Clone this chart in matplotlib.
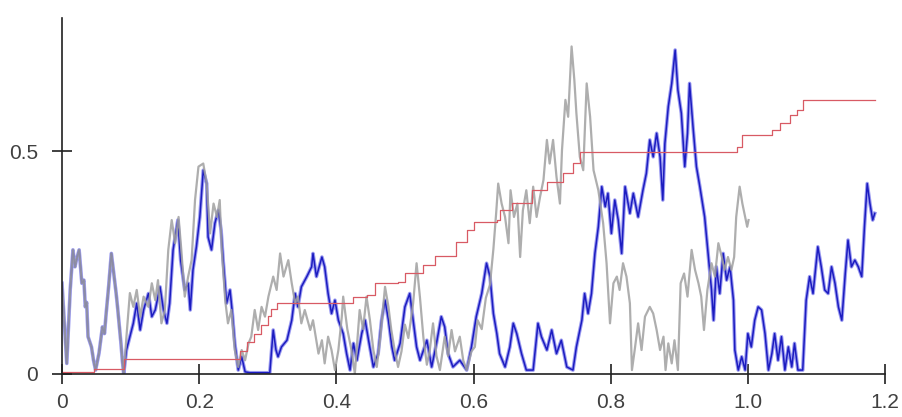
import numpy as np
import matplotlib.pyplot as plt

plt.rcParams['font.family'] = ['Liberation Sans', 'DejaVu Sans']

# doan dau: hai duong trung nhau
chung_t = [0.000, 0.004, 0.007, 0.012, 0.016, 0.019, 0.021, 0.025, 0.029, 0.032, 0.034, 0.036, 0.038, 0.043,
           0.046, 0.049, 0.054, 0.059, 0.062, 0.064, 0.068, 0.072, 0.076, 0.079, 0.081, 0.084, 0.086, 0.088, 0.090]
chung_v = [0.203, 0.100, 0.023, 0.188, 0.278, 0.240, 0.255, 0.278, 0.203, 0.210, 0.150, 0.160, 0.083, 0.060,
           0.030, 0.008, 0.046, 0.105, 0.090, 0.128, 0.195, 0.270, 0.218, 0.180, 0.150, 0.100, 0.068, 0.030, 0.000]

# duong xam
xam_t = [0.094, 0.099, 0.104, 0.109, 0.114, 0.119, 0.126, 0.131, 0.136, 0.140, 0.145, 0.150, 0.155, 0.160,
         0.165, 0.170, 0.174, 0.179, 0.184, 0.189, 0.194, 0.199, 0.206, 0.211, 0.216, 0.221, 0.226, 0.230,
         0.233, 0.238, 0.242, 0.247, 0.252, 0.257, 0.262, 0.267, 0.272, 0.276, 0.281, 0.286, 0.291, 0.296,
         0.301, 0.308, 0.313, 0.318, 0.323, 0.330, 0.335, 0.340, 0.344, 0.349, 0.354, 0.362, 0.366, 0.374,
         0.379, 0.383, 0.388, 0.393, 0.398, 0.403, 0.408,
         0.410, 0.416, 0.422, 0.427, 0.434, 0.439, 0.444, 0.449, 0.454, 0.459, 0.464, 0.471, 0.476, 0.480,
         0.485, 0.490, 0.495, 0.500, 0.505, 0.512, 0.517, 0.522, 0.527, 0.532, 0.536, 0.541, 0.546, 0.551,
         0.558, 0.563, 0.568, 0.573, 0.580, 0.585, 0.590, 0.597, 0.602, 0.606, 0.612, 0.618, 0.624, 0.629,
         0.633,
         0.636, 0.641, 0.646, 0.651, 0.654, 0.659, 0.664, 0.668, 0.672, 0.677, 0.682, 0.687, 0.692, 0.697,
         0.702, 0.707, 0.711, 0.716, 0.721, 0.726, 0.729, 0.734, 0.738, 0.743, 0.747, 0.750, 0.755, 0.760,
         0.765, 0.770, 0.775, 0.782, 0.789, 0.794, 0.799, 0.804, 0.809, 0.813, 0.818, 0.823, 0.828, 0.831,
         0.835, 0.840, 0.845, 0.850, 0.857, 0.862, 0.867, 0.872, 0.877, 0.880, 0.884, 0.889, 0.893, 0.898,
         0.902, 0.907, 0.912, 0.918, 0.923, 0.928, 0.932, 0.936, 0.941, 0.947, 0.952, 0.957, 0.962, 0.966,
         0.971, 0.976, 0.980, 0.983, 0.988, 0.992, 0.996, 0.999, 1.001]
xam_v = [0.083, 0.181, 0.150, 0.188, 0.128, 0.173, 0.150, 0.203, 0.165, 0.210, 0.113, 0.143, 0.278, 0.345,
         0.293, 0.352, 0.278, 0.173, 0.218, 0.255, 0.390, 0.465, 0.472, 0.427, 0.315, 0.382, 0.352, 0.390,
         0.278, 0.165, 0.113, 0.143, 0.053, 0.015, 0.053, 0.030, 0.068, 0.083, 0.143, 0.098, 0.150, 0.128,
         0.173, 0.218, 0.188, 0.270, 0.218, 0.255, 0.203, 0.158, 0.173, 0.113, 0.143, 0.098, 0.120, 0.045,
         0.075, 0.023, 0.083, 0.053, 0.008, 0.053, 0.128,
         0.173, 0.100, 0.053, 0.000, 0.143, 0.100, 0.173, 0.120, 0.053, 0.015, 0.080, 0.195, 0.150, 0.100,
         0.053, 0.015, 0.050, 0.110, 0.080, 0.158, 0.248, 0.170, 0.080, 0.020, 0.050, 0.113, 0.040, 0.008,
         0.083, 0.040, 0.098, 0.050, 0.083, 0.030, 0.008, 0.050, 0.060, 0.120, 0.100, 0.170, 0.200, 0.280,
         0.360,
         0.427, 0.382, 0.352, 0.293, 0.412, 0.352, 0.382, 0.262, 0.367, 0.412, 0.338, 0.420, 0.352, 0.397,
         0.435, 0.525, 0.472, 0.525, 0.442, 0.382, 0.502, 0.615, 0.577, 0.735, 0.660, 0.585, 0.487, 0.457,
         0.652, 0.577, 0.457, 0.412, 0.338, 0.248, 0.113, 0.203, 0.218, 0.188, 0.248, 0.218, 0.158, 0.008,
         0.053, 0.113, 0.053, 0.128, 0.150, 0.135, 0.098, 0.053, 0.083, 0.008, 0.068, 0.023, 0.075, 0.008,
         0.203, 0.225, 0.173, 0.278, 0.233, 0.203, 0.173, 0.098, 0.188, 0.248, 0.218, 0.293, 0.262, 0.233,
         0.262, 0.233, 0.262, 0.352, 0.420, 0.382, 0.352, 0.330, 0.345]

# duong xanh
xanh_t = [0.094, 0.099, 0.104, 0.109, 0.114, 0.119, 0.126, 0.131, 0.136, 0.143, 0.148, 0.153, 0.157, 0.162,
          0.169, 0.173, 0.179, 0.184, 0.187, 0.191, 0.196, 0.201, 0.206, 0.211, 0.213, 0.218, 0.223, 0.228,
          0.232, 0.235, 0.240, 0.245, 0.248, 0.252, 0.257, 0.262, 0.267, 0.274, 0.291, 0.303, 0.308, 0.312,
          0.315, 0.320,
          0.328, 0.335, 0.340, 0.344, 0.349, 0.357, 0.364, 0.366, 0.371, 0.379, 0.383, 0.388, 0.393, 0.398,
          0.403, 0.410, 0.415, 0.420, 0.425, 0.430, 0.437, 0.442, 0.447, 0.454, 0.461, 0.466, 0.471, 0.476,
          0.481, 0.485, 0.493, 0.500, 0.507, 0.512, 0.517, 0.522, 0.532, 0.539, 0.546, 0.553, 0.558, 0.563,
          0.570, 0.580, 0.590, 0.597, 0.604, 0.612, 0.619, 0.624, 0.629, 0.634, 0.638, 0.646, 0.653, 0.658,
          0.663, 0.670, 0.677, 0.687, 0.694, 0.699, 0.707, 0.714, 0.721, 0.728, 0.736, 0.745, 0.750,
          0.758, 0.762, 0.767, 0.772, 0.777, 0.782, 0.787, 0.792, 0.796, 0.801, 0.806, 0.811, 0.816, 0.821,
          0.828, 0.833, 0.840, 0.847, 0.852, 0.857, 0.862, 0.867, 0.872, 0.876, 0.879, 0.884, 0.889, 0.894,
          0.898, 0.903, 0.908, 0.912, 0.915, 0.920, 0.925, 0.930, 0.937, 0.942, 0.947, 0.950, 0.954, 0.959,
          0.964, 0.969, 0.974, 0.979, 0.981, 0.986, 0.991, 0.996, 1.000, 1.005, 1.010, 1.015, 1.020, 1.025,
          1.030, 1.035, 1.039, 1.044, 1.049, 1.054, 1.059, 1.064, 1.068, 1.073, 1.080, 1.085, 1.090, 1.095,
          1.102, 1.107, 1.112, 1.117, 1.122, 1.127, 1.132, 1.137, 1.142, 1.146, 1.151, 1.156, 1.161, 1.166,
          1.170, 1.174, 1.178, 1.182, 1.185]
xanh_v = [0.053, 0.083, 0.113, 0.158, 0.098, 0.143, 0.180, 0.128, 0.143, 0.195, 0.143, 0.113, 0.158, 0.278,
          0.345, 0.255, 0.188, 0.203, 0.143, 0.233, 0.285, 0.352, 0.457, 0.427, 0.307, 0.278, 0.338, 0.367,
          0.322, 0.255, 0.158, 0.188, 0.143, 0.068, 0.008, 0.038, 0.004, 0.002, 0.002, 0.002, 0.098, 0.053,
          0.038, 0.060,
          0.075, 0.120, 0.180, 0.150, 0.195, 0.218, 0.240, 0.270, 0.218, 0.262, 0.240, 0.180, 0.135, 0.165,
          0.120, 0.090, 0.045, 0.008, 0.068, 0.030, 0.090, 0.120, 0.075, 0.015, 0.045, 0.120, 0.165, 0.120,
          0.060, 0.030, 0.068, 0.150, 0.180, 0.120, 0.060, 0.030, 0.075, 0.015, 0.068, 0.128, 0.105, 0.045,
          0.015, 0.030, 0.008, 0.060, 0.128, 0.180, 0.248, 0.218, 0.135, 0.090, 0.045, 0.015, 0.060, 0.113,
          0.090, 0.045, 0.008, 0.008, 0.113, 0.083, 0.053, 0.098, 0.045, 0.075, 0.015, 0.008, 0.060,
          0.120, 0.180, 0.135, 0.180, 0.270, 0.330, 0.420, 0.375, 0.405, 0.315, 0.390, 0.345, 0.270, 0.420,
          0.360, 0.405, 0.352, 0.412, 0.450, 0.525, 0.487, 0.540, 0.487, 0.390, 0.517, 0.600, 0.652, 0.727,
          0.637, 0.585, 0.465, 0.540, 0.652, 0.555, 0.465, 0.420, 0.352, 0.270, 0.188, 0.120, 0.240, 0.180,
          0.270, 0.210, 0.240, 0.165, 0.053, 0.008, 0.038, 0.008, 0.090, 0.060, 0.120, 0.150, 0.143, 0.090,
          0.008, 0.045, 0.090, 0.030, 0.083, 0.008, 0.060, 0.015, 0.068, 0.008, 0.008, 0.165, 0.218, 0.180,
          0.285, 0.240, 0.188, 0.180, 0.240, 0.203, 0.150, 0.120, 0.225, 0.300, 0.240, 0.255, 0.240, 0.218,
          0.330, 0.427, 0.382, 0.345, 0.360]

# duong do (bac thang)
do_t = [0.000, 0.045, 0.047, 0.088, 0.090, 0.252, 0.260, 0.270, 0.280, 0.290, 0.300, 0.305, 0.313, 0.417,
        0.424, 0.444, 0.456, 0.490, 0.500, 0.518, 0.527, 0.544, 0.562, 0.574, 0.590, 0.600, 0.634, 0.638,
        0.656, 0.686, 0.707, 0.730, 0.745, 0.755, 0.978, 0.984, 0.992, 1.029, 1.035, 1.047, 1.061, 1.071,
        1.080, 1.185]
do_v = [0.003, 0.003, 0.010, 0.010, 0.032, 0.032, 0.050, 0.070, 0.090, 0.110, 0.130, 0.145, 0.158, 0.158,
        0.173, 0.176, 0.203, 0.206, 0.225, 0.225, 0.244, 0.264, 0.264, 0.296, 0.322, 0.341, 0.345, 0.367,
        0.383, 0.412, 0.430, 0.450, 0.473, 0.498, 0.498, 0.510, 0.536, 0.536, 0.547, 0.563, 0.580, 0.592,
        0.615, 0.615]

x_ticks = [0, 0.2, 0.4, 0.6, 0.8, 1.0, 1.2]
x_labels = ['0', '0.2', '0.4', '0.6', '0.8', '1.0', '1.2']
y_ticks = [0, 0.5]
y_labels = ['0', '0.5']

fig = plt.figure(figsize=(9.02, 4.17), dpi=100)
ax = fig.add_axes([0.0687, 0.104, 0.9125, 0.854])

xanh_all_t = chung_t + xanh_t
xanh_all_v = chung_v + xanh_v
ax.plot(xanh_all_t, xanh_all_v, color='#9a9af0', lw=2.6, zorder=2)
ax.plot(xanh_all_t, xanh_all_v, color='#1c1cc0', lw=1.1, zorder=2)
ax.plot(chung_t + xam_t, chung_v + xam_v, color='#a0a0a0', lw=1.6, alpha=0.85, zorder=3)
ax.plot(do_t, do_v, color='#d85a64', lw=0.9, drawstyle='steps-post', zorder=4)

ax.set_xlim(0, 1.2)
ax.set_ylim(0, 0.80)
ax.set_xticks(x_ticks)
ax.set_xticklabels(x_labels)
ax.set_yticks(y_ticks)
ax.set_yticklabels(y_labels)
ax.tick_params(direction='inout', length=14, width=1.2, labelsize=15, color='#202020', labelcolor='#404040')
ax.tick_params(axis='x', pad=7)
ax.tick_params(axis='y', pad=10)
for s in ['top', 'right']:
    ax.spines[s].set_visible(False)
for s in ['left', 'bottom']:
    ax.spines[s].set_linewidth(1.2)
    ax.spines[s].set_color('#202020')
    ax.spines[s].set_zorder(5)

fig.savefig('out.png', dpi=100)
